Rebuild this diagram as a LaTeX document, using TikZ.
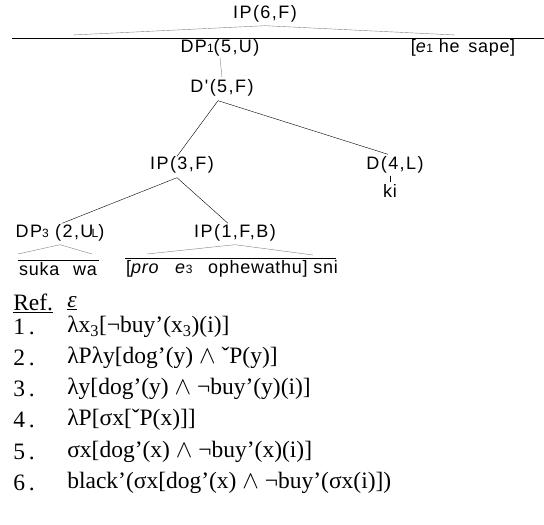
\documentclass[tikz,border=0pt]{standalone}
\usepackage{fontspec}
\setmainfont{Liberation Serif}
\newfontfamily\treefont[LetterSpace=8]{Liberation Sans}
\newfontfamily\leaffont[LetterSpace=4]{Liberation Sans}
\usetikzlibrary{calc}
\tikzset{
    cat/.style={inner sep=0pt, font=\treefont\fontsize{18}{20}\selectfont},
    leaf/.style={inner sep=0pt, font=\leaffont\fontsize{18}{20}\selectfont},
    row/.style={anchor=west, inner sep=0pt, font=\fontsize{23.5}{26}\selectfont},
    br/.style={thin},
    roof/.style={thin, draw=gray},
    tr/.style={x=1pt, y=-1pt, line width=0.6pt}
}
\newcommand{\sbs}[1]{{\fontsize{12}{12}\selectfont #1}}

\begin{document}
\begin{tikzpicture}[tr]
        \useasboundingbox (0,0) rectangle (544,525);
        \node[cat] (ip6) at (265,14) {IP(6,F)};
        \coordinate (hl) at (12,38);
        \coordinate (hr) at (544,38);
        \coordinate (r6a) at (73,35);
        \coordinate (r6b) at (455,35);
        \node[cat] (dp1) at (220,48) {DP\sbs{1}(5,U)};
        \node[leaf] (sape) at (463,48) {[\textit{e}\sbs{1} he\, sape]};
        \node[cat] (dbar) at (222,88) {D'(5,F)};
        \node[cat] (ip3) at (182,165) {IP(3,F)};
        \node[cat] (d4) at (395,165) {D(4,L)};
        \node[leaf] (ki) at (390,191) {ki};
        \node[cat] (dp3) at (60,233) {DP\sbs{3} (2,U\kern-0.1em\sbs{L})};
        \node[cat] (ip1) at (235,233) {IP(1,F,B)};
        \node[leaf] (suka) at (58,269) {suka\;\, wa};
        \node[leaf] (pro) at (232,269) {[\textit{pro}\;\; \textit{e}\sbs{3}\;\; ophewathu] sni};
        \coordinate (r3a) at (18,254);
        \coordinate (r3b) at (92,254);
        \coordinate (r1a) at (147,254);
        \coordinate (r1b) at (313,255);

        \draw[br] (hl) -- (hr);
        \draw[roof] (r6a) -- ([yshift=-3pt]ip6.south) -- (r6b);
        \draw[roof] ([yshift=-1pt]dp1.south) -- ([yshift=2pt]dbar.north);
        \draw[br] ([xshift=-4pt,yshift=-4pt]dbar.south) -- ([xshift=-5pt]ip3.north);
        \draw[br] ([xshift=-4pt,yshift=-4pt]dbar.south) -- ([xshift=-7pt,yshift=2pt]d4.north);
        \draw[br] ([xshift=-5pt,yshift=-2pt]d4.south) -- ([yshift=2pt]ki.north);
        \draw[br] ([xshift=-5pt,yshift=-4pt]ip3.south) -- ([xshift=2pt,yshift=1pt]dp3.north);
        \draw[br] ([xshift=-5pt,yshift=-4pt]ip3.south) -- ([xshift=-7pt,yshift=1pt]ip1.north);
        \draw[roof] (r3a) -- ([yshift=-3pt]dp3.south) -- (r3b);
        \draw[roof] (r1a) -- ([yshift=-3pt]ip1.south) -- (r1b);
        \draw[br] ([xshift=-1pt,yshift=2pt]suka.north west) -- ([xshift=2pt,yshift=2pt]suka.north east);
        \draw[br] ([xshift=-1pt,yshift=2pt]pro.north west) -- ([xshift=-2pt,yshift=2pt]pro.north east);

        \node[row] (ref) at (13,303) {\underline{Ref.}};
        \node[row] (eps) at (67,303) {\underline{\textit{ε}}};
        \node[row] (n1) at (13,327) {1\,.};
        \node[row] (f1) at (67,327) {λx\textsubscript{3}[¬buy’(x\textsubscript{3})(i)]};
        \node[row] (n2) at (13,358) {2\,.};
        \node[row] (f2) at (67,358) {λPλy[dog’(y) $\land$ ˇP(y)]};
        \node[row] (n3) at (13,389) {3\,.};
        \node[row] (f3) at (67,389) {λy[dog’(y) $\land$ ¬buy’(y)(i)]};
        \node[row] (n4) at (13,420) {4\,.};
        \node[row] (f4) at (67,420) {λP[σx[ˇP(x)]]};
        \node[row] (n5) at (13,452) {5\,.};
        \node[row] (f5) at (67,452) {σx[dog’(x) $\land$ ¬buy’(x)(i)]};
        \node[row] (n6) at (13,483) {6\,.};
        \node[row] (f6) at (67,483) {black’(σx[dog’(x) $\land$ ¬buy’(σx(i)])};
    \end{tikzpicture}
\end{document}
